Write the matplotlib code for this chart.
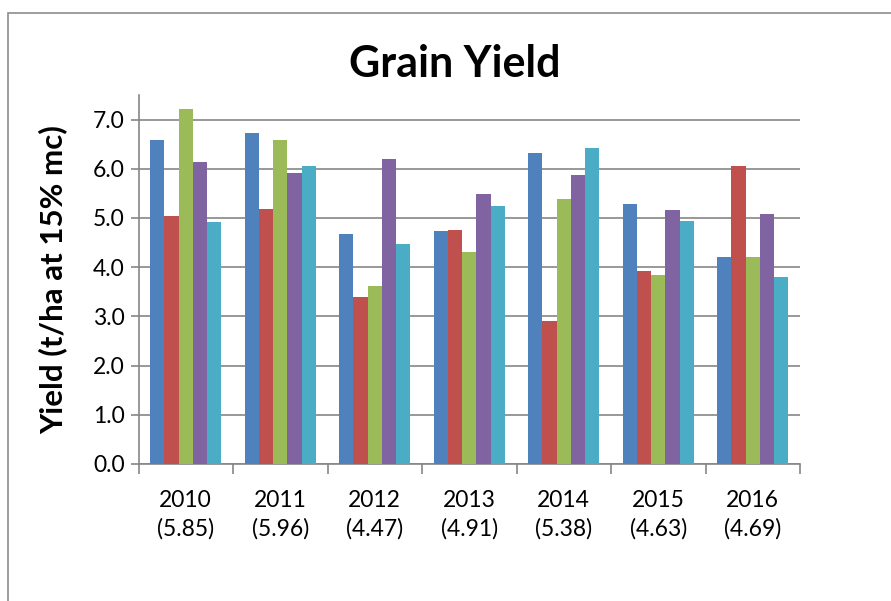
import numpy as np
import matplotlib.pyplot as plt
from matplotlib.patches import Rectangle

plt.rcParams['font.family'] = ['Lato', 'DejaVu Sans']

years = ['2010', '2011', '2012', '2013', '2014', '2015', '2016']
means = ['(5.85)', '(5.96)', '(4.47)', '(4.91)', '(5.38)', '(4.63)', '(4.69)']

s1 = [6.59, 6.72, 4.67, 4.73, 6.32, 5.28, 4.21]
s2 = [5.05, 5.19, 3.39, 4.76, 2.90, 3.92, 6.06]
s3 = [7.21, 6.59, 3.62, 4.31, 5.38, 3.85, 4.21]
s4 = [6.14, 5.91, 6.20, 5.48, 5.87, 5.16, 5.09]
s5 = [4.92, 6.06, 4.47, 5.25, 6.42, 4.93, 3.81]
series = [s1, s2, s3, s4, s5]
colors = ['#4F81BD', '#C0504D', '#9BBB59', '#8064A2', '#4BACC6']

W, H = 891, 601
fig = plt.figure(figsize=(W / 100, H / 100), dpi=100)
fig.patches.append(Rectangle((8 / W, -0.1), 1.2, 1 - 13 / H + 0.1, transform=fig.transFigure,
                             fill=False, edgecolor='#8c8c8c', linewidth=1.2))

ax = fig.add_axes([138.5 / W, 1 - 464 / H, (800 - 138.5) / W, (464 - 95) / H])

x = np.arange(len(years))
bw = 0.151
for i, (vals, c) in enumerate(zip(series, colors)):
    ax.bar(x + (i - 2) * bw, vals, width=bw, color=c, zorder=3)

ax.set_xlim(-0.5, len(years) - 0.5)
ax.set_ylim(0, 7.5)
ax.set_yticks(np.arange(0, 7.01, 1.0))
ax.set_yticklabels(['%.1f' % v for v in np.arange(0, 7.01, 1.0)], fontsize=16.5)
ax.yaxis.grid(True, color='#868686', linewidth=1.2, zorder=0)

ax.set_xticks(np.arange(-0.5, len(years), 1.0))
ax.set_xticklabels([])
ax.set_xticks(x, minor=True)
ax.set_xticklabels([y + '\n' + m for y, m in zip(years, means)], minor=True, fontsize=16.5)
for t in ax.get_xticklabels(minor=True):
    t.set_linespacing(1.4)
ax.tick_params(axis='x', which='minor', length=0, pad=19)
ax.tick_params(axis='x', which='major', length=7, color='#868686', width=1.2)
ax.tick_params(axis='y', length=6, color='#868686', width=1.2, pad=4)

for side in ['top', 'right']:
    ax.spines[side].set_visible(False)
for side in ['left', 'bottom']:
    ax.spines[side].set_color('#868686')
    ax.spines[side].set_linewidth(1.2)

ax.set_ylabel('Yield (t/ha at 15% mc)', fontsize=22.5, fontweight='bold')
ax.yaxis.set_label_coords((67 - 138.5) / 661.5, 0.5)
fig.text(455 / W, 1 - 64 / H, 'Grain Yield', ha='center', va='center', fontsize=31, fontweight='bold')

plt.savefig('out.png', dpi=100)
